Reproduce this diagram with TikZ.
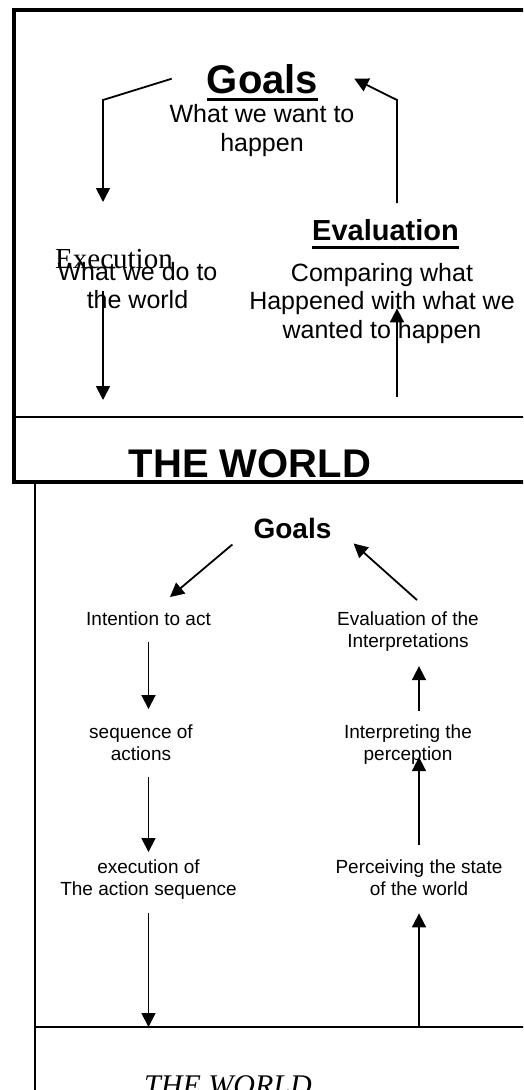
\documentclass[tikz,border=0pt]{standalone}
\usepackage{fontspec}
\setmainfont{Liberation Sans}
\newfontfamily\timesfont{Liberation Serif}
\usetikzlibrary{arrows.meta}

\tikzset{
  arr/.style={-{Triangle[width=14pt,length=14pt]}, line width=1.8pt},
  txt/.style={inner sep=0pt, anchor=base, align=center},
  big/.style={txt, font=\fontsize{25}{28.5}\selectfont},
  small/.style={txt, font=\fontsize{19}{22}\selectfont},
  head/.style={txt, font=\bfseries\fontsize{#1}{#1}\selectfont},
  uline/.style={line width=3pt},
}

\begin{document}
\begin{tikzpicture}[x=1pt,y=-1pt]
\useasboundingbox (0,0) rectangle (523,1090);
\clip (0,0) rectangle (523,1090);

% upper panel: thick frame, world strip at the bottom
\draw[line width=3.5pt] (540,10) -- (14,10) -- (14,482) -- (540,482);
\draw[line width=1.5pt] (14,417) -- (540,417);
\coordinate (floorT) at (14,417);

% (multi-line nodes sit on the baseline of their last line)
\node[head=40] (goalsT) at (262.5,93) {Goals};
\draw[uline] ([yshift=-6pt]goalsT.base west) -- ([yshift=-6pt]goalsT.base east);
\node[big] (wantT) at (262,151) {What we want to\\happen};

\node[txt, anchor=base west, font=\timesfont\fontsize{29}{29}\selectfont] (execT) at (55,268) {Execution};
\node[big] (doT) at (137.5,308.5) {What we do to\\the world};

\node[head=29] (evalT) at (385.5,240) {Evaluation};
\draw[uline] ([yshift=-7pt]evalT.base west) -- ([yshift=-7pt]evalT.base east);
\node[big] (compT) at (382,338) {Comparing what\\Happened with what we\\wanted to happen};

\node[head=40] (worldT) at (250,477) {THE WORLD};

% the two loops of the upper panel
\coordinate (bendL) at (103,100);
\coordinate (bendR) at (397,100);
\coordinate (execIn) at (103,202);
\coordinate (evalOut) at (397,203);
\draw[arr] ([xshift=-35pt]goalsT.west) -- (bendL) -- (execIn);
\draw[arr] (evalOut) -- (bendR) -- ([xshift=36pt]goalsT.east);
\draw[arr] ([yshift=18pt]doT.south -| bendL) -- ([yshift=17pt]floorT -| bendL);
\draw[arr] ([yshift=20pt]floorT -| bendR) -- ([yshift=35pt]compT.south -| bendR);

% lower panel
\draw[line width=1.5pt] (35,484) -- (35,1100);
\draw[line width=1.5pt] (35,1027) -- (540,1027);
\coordinate (floorB) at (35,1027);

\node[head=28] (goalsB) at (292.5,538) {Goals};
\node[small] (intent) at (148.5,625) {Intention to act};
\node[small] (evalB) at (408,647) {Evaluation of the\\Interpretations};
\node[small] (seq) at (141,760) {sequence of\\actions};
\node[small] (interp) at (408,760) {Interpreting the\\perception};
\node[small] (execB) at (148.5,895) {execution of\\The action sequence};
\node[small] (perc) at (419,895) {Perceiving the state\\of the world};
\node[txt, font=\timesfont\itshape\fontsize{30}{30}\selectfont] (worldB) at (228,1095) {THE WORLD};

% execution side, going down
\draw[arr] ([shift={(-21pt,-6pt)}]goalsB.south west) -- ([shift={(-41pt,14pt)}]intent.north east);
\draw[arr, shorten <=17pt, shorten >=15pt] (intent.south) -- (intent.center |- seq.north);
\draw[arr, shorten <=17pt, shorten >=7pt] (seq.south -| intent.center) -- (intent.center |- execB.north);
\draw[arr, shorten <=14pt] (execB.south -| intent.center) -- (intent.center |- floorB);

% evaluation side, going up
\draw[arr, shorten >=18pt] (perc.center |- floorB) -- (perc.south);
\draw[arr, shorten <=14pt, shorten >=-7pt] (perc.north) -- (perc.center |- interp.south);
\draw[arr, shorten <=13pt, shorten >=15pt] (perc.center |- interp.north) -- (perc.center |- evalB.south);
\draw[arr] ([shift={(9pt,11pt)}]evalB.north) -- ([shift={(22pt,-5pt)}]goalsB.south east);
\end{tikzpicture}
\end{document}
